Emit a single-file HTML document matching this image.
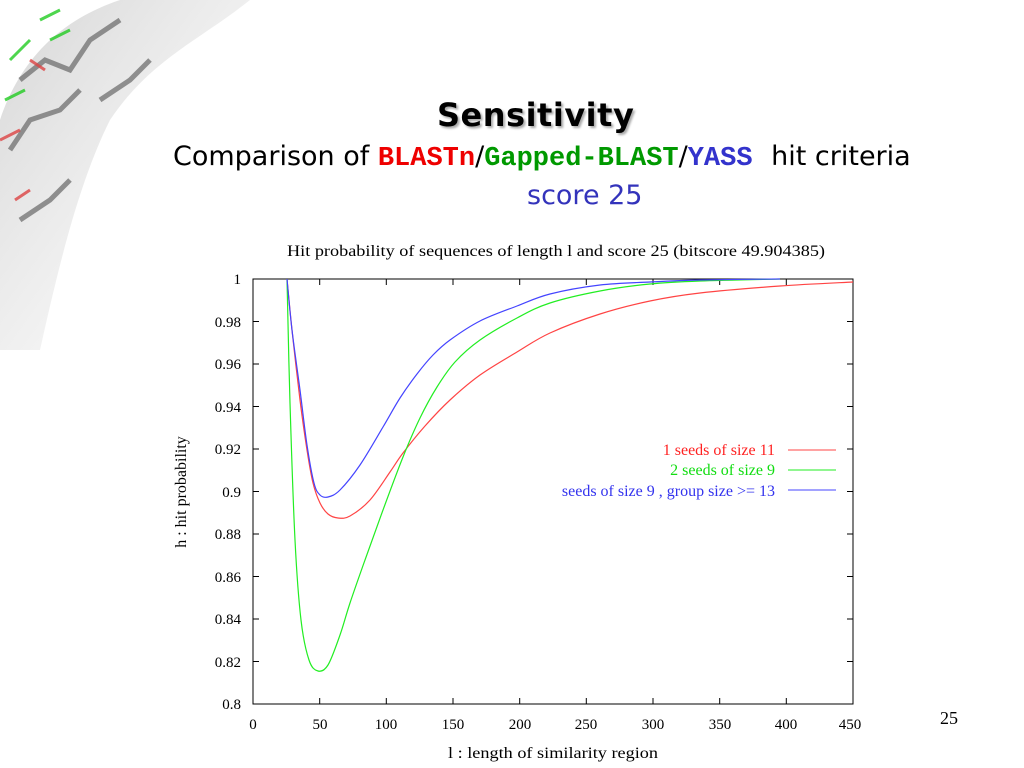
<!DOCTYPE html>
<html><head><meta charset="utf-8"><style>
body{margin:0;width:1024px;height:768px;background:#fff;position:relative;overflow:hidden;font-family:"DejaVu Sans","Liberation Sans",sans-serif}
.t{position:absolute;white-space:nowrap}
.m{font-family:'Liberation Mono',monospace;font-weight:bold;font-size:27px}
</style></head><body>
<svg width="260" height="350" style="position:absolute;left:0;top:0">
<defs><linearGradient id="g" x1="0" y1="0" x2="1" y2="1"><stop offset="0" stop-color="#666" stop-opacity=".6"/><stop offset="1" stop-color="#aaa" stop-opacity="0"/></linearGradient></defs>
<path d="M0,120 C20,60 60,20 120,0 L250,0 C200,40 150,60 110,120 C80,180 60,260 40,350 L0,350 Z" fill="url(#g)" opacity=".45"/>
<g stroke="#666" stroke-width="5" opacity=".7" fill="none">
<path d="M20,80 L45,60 L70,70 L90,40 L120,20 M10,150 L30,120 L60,110 L80,90 M20,220 L50,200 L70,180 M100,100 L130,80 L150,60"/>
</g>
<path d="M10,60 L30,40 M40,20 L60,10 M5,100 L25,90 M50,40 L70,30" stroke="#2c2" stroke-width="3" opacity=".8"/>
<path d="M0,140 L20,130 M30,60 L45,70 M15,200 L30,190" stroke="#d44" stroke-width="3" opacity=".8"/>
</svg>
<div class="t" style="left:437px;top:96px;font-size:32px;font-weight:bold;text-shadow:2px 2px 2px #aaa;letter-spacing:0.5px">Sensitivity</div>
<div class="t" style="left:173px;top:141px;font-size:27px">Comparison of <span class="m" style="color:#e00">BLASTn</span>/<span class="m" style="color:#090">Gapped-BLAST</span>/<span class="m" style="color:#33c">YASS</span><span style="margin-left:10px"> hit criteria</span></div>
<div class="t" style="left:527px;top:180px;font-size:27px;color:#33b">score 25</div>
<div class="t" style="left:940px;top:708px;font-size:18px;font-family:'Liberation Serif',serif">25</div>
<svg width="1024" height="768" style="position:absolute;left:0;top:0;font-family:'Liberation Serif',serif;font-size:15px">
<text x="287" y="256" font-size="16" textLength="538" lengthAdjust="spacingAndGlyphs">Hit probability of sequences of length l and score 25 (bitscore 49.904385)</text>
<rect x="253" y="279" width="600" height="425" fill="none" stroke="#000"/>
<g stroke="#000">
<path d="M253,321.5h6M253,364h6M253,406.5h6M253,449h6M253,491.5h6M253,534h6M253,576.5h6M253,619h6M253,661.5h6M853,321.5h-6M853,364h-6M853,406.5h-6M853,449h-6M853,491.5h-6M853,534h-6M853,576.5h-6M853,619h-6M853,661.5h-6"/>
<path d="M319.7,704v-6M386.3,704v-6M453,704v-6M519.7,704v-6M586.3,704v-6M653,704v-6M719.7,704v-6M786.3,704v-6M319.7,279v6M386.3,279v6M453,279v6M519.7,279v6M586.3,279v6M653,279v6M719.7,279v6M786.3,279v6"/>
</g>
<g text-anchor="end"><text x="241" y="284">1</text><text x="241" y="327">0.98</text><text x="241" y="369">0.96</text><text x="241" y="412">0.94</text><text x="241" y="454">0.92</text><text x="241" y="497">0.9</text><text x="241" y="539">0.88</text><text x="241" y="582">0.86</text><text x="241" y="624">0.84</text><text x="241" y="667">0.82</text><text x="241" y="709">0.8</text></g>
<g text-anchor="middle"><text x="253" y="729">0</text><text x="320" y="729">50</text><text x="386" y="729">100</text><text x="453" y="729">150</text><text x="520" y="729">200</text><text x="586" y="729">250</text><text x="653" y="729">300</text><text x="720" y="729">350</text><text x="786" y="729">400</text><text x="850" y="729">450</text></g>
<text x="448" y="758" font-size="16" textLength="210" lengthAdjust="spacingAndGlyphs">l : length of similarity region</text>
<text transform="translate(186,492) rotate(-90)" text-anchor="middle" font-size="16">h : hit probability</text>
<g fill="none" stroke-width="1.2" stroke-linejoin="round">
<path id="r" stroke="#f44"/><path id="gr" stroke="#2e2"/><path id="b" stroke="#44f"/>
</g>
<g font-size="16" text-anchor="end"><text x="775" y="455" fill="#f22">1 seeds of size 11</text><text x="775" y="475" fill="#1d1">2 seeds of size 9</text><text x="775" y="496" fill="#33e">seeds of size 9 , group size &gt;= 13</text></g>
<path d="M788,450h48" stroke="#f44"/><path d="M788,470h48" stroke="#2e2"/><path d="M788,490h48" stroke="#44f"/>
</svg>
<script>
function cr(p){var d="M"+p[0][0]+","+p[0][1];for(var i=0;i<p.length-1;i++){var p0=p[i-1]||p[i],p1=p[i],p2=p[i+1],p3=p[i+2]||p2;
d+=" C"+(p1[0]+(p2[0]-p0[0])/6)+","+(p1[1]+(p2[1]-p0[1])/6)+" "+(p2[0]-(p3[0]-p1[0])/6)+","+(p2[1]-(p3[1]-p1[1])/6)+" "+p2[0]+","+p2[1];}return d;}
var R=[[287,279],[292,330],[300,400],[307,450],[313,483],[320,503],[328,514],[338,518],[350,516],[370,500],[390,472],[403,453],[425,426],[450,400],[480,375],[517,352],[550,333],[600,314],[650,301],[700,293],[780,286],[853,282]];
var G=[[287,279],[290,403],[295,540],[301,620],[309,660],[318,671],[328,665],[340,635],[350,603],[365,560],[383,510],[403,457],[420,418],[437,387],[455,362],[480,340],[517,318],[550,303],[600,291],[650,284],[700,281],[780,279]];
var B=[[287,279],[292,330],[300,390],[307,445],[314,483],[320,495],[328,497],[340,490],[360,465],[383,427],[400,398],[417,374],[433,355],[450,340],[480,321],[517,306],[550,294],[600,285],[650,282],[700,280],[780,279]];
document.getElementById('r').setAttribute('d',cr(R));document.getElementById('gr').setAttribute('d',cr(G));document.getElementById('b').setAttribute('d',cr(B));
</script>
</body></html>
